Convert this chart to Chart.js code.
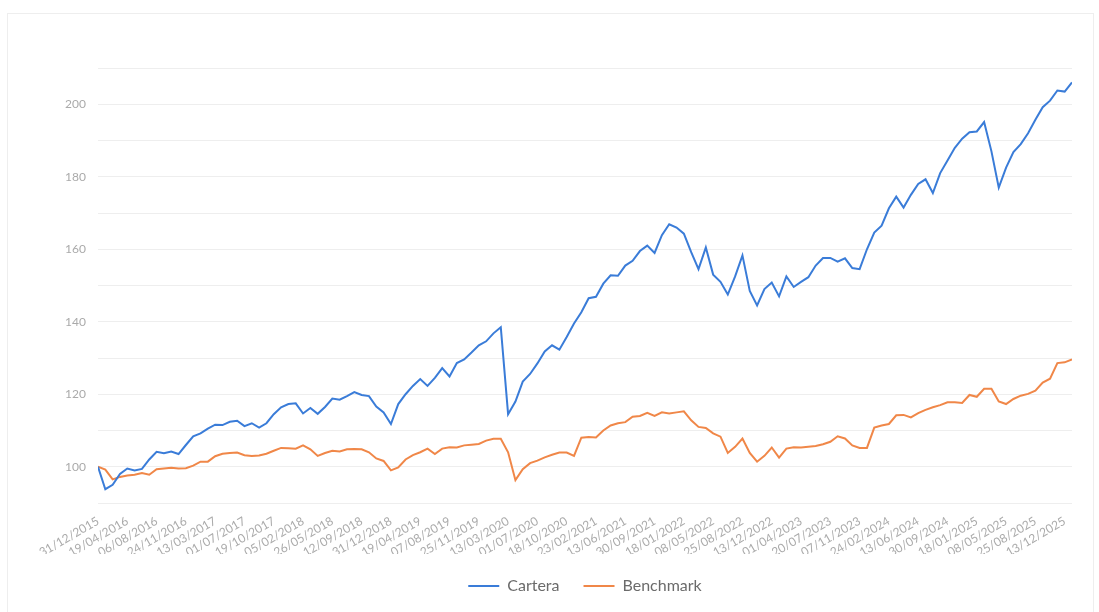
<!DOCTYPE html>
<html>
<head>
<meta charset="utf-8">
<script src="https://cdn.jsdelivr.net/npm/chart.js@4"></script>
<style>
    body { margin: 0; background: #fff; overflow: hidden; }
    #card {
        position: absolute;
        left: 7px;
        top: 13px;
        width: 1085px;
        height: 610px;
        border: 1px solid #eeeeee;
        border-bottom: none;
    }
</style>
</head>
<body>
<div id="card"><canvas id="performance"></canvas></div>
<script>
const POINTS_PER_TICK = 4;

const tickLabels = [
    '31/12/2015', '19/04/2016', '06/08/2016', '24/11/2016', '13/03/2017', '01/07/2017',
    '19/10/2017', '05/02/2018', '26/05/2018', '12/09/2018', '31/12/2018', '19/04/2019',
    '07/08/2019', '25/11/2019', '13/03/2020', '01/07/2020', '18/10/2020', '23/02/2021',
    '13/06/2021', '30/09/2021', '18/01/2022', '08/05/2022', '25/08/2022', '13/12/2022',
    '01/04/2023', '20/07/2023', '07/11/2023', '24/02/2024', '13/06/2024', '30/09/2024',
    '18/01/2025', '08/05/2025', '25/08/2025', '13/12/2025'
];

const cartera = [
    100, 93.8, 95, 98, 99.5, 99, 99.4, 102, 104.1, 103.7,
    104.2, 103.5, 106, 108.4, 109.2, 110.5, 111.6, 111.5, 112.4, 112.7,
    111.2, 112, 110.8, 112, 114.5, 116.4, 117.3, 117.5, 114.7, 116.2,
    114.6, 116.5, 118.8, 118.5, 119.5, 120.6, 119.8, 119.5, 116.6, 115,
    111.8, 117.3, 120, 122.3, 124.2, 122.3, 124.5, 127.2, 124.9, 128.6,
    129.6, 131.5, 133.5, 134.6, 136.8, 138.5, 114.5, 118, 123.5, 125.6,
    128.5, 131.8, 133.5, 132.3, 135.8, 139.5, 142.6, 146.5, 146.9, 150.5,
    152.8, 152.7, 155.5, 156.8, 159.5, 161, 159, 163.9, 166.9, 166,
    164.3, 159.2, 154.5, 160.5, 153, 151, 147.5, 152.5, 158.3, 148.5,
    144.5, 149, 150.8, 147, 152.5, 149.6, 151, 152.3, 155.5, 157.6,
    157.6, 156.6, 157.5, 154.8, 154.5, 160, 164.6, 166.5, 171.3, 174.5,
    171.5, 175, 178, 179.3, 175.5, 181, 184.5, 188, 190.5, 192.3,
    192.5, 195.1, 187, 177, 182.5, 186.8, 189, 192, 195.7, 199.2,
    201, 203.8, 203.5, 206
];

const benchmark = [
    100, 99.2, 96.5, 97.2, 97.6, 97.8, 98.3, 97.8, 99.3, 99.5,
    99.7, 99.5, 99.6, 100.3, 101.4, 101.4, 102.9, 103.6, 103.8, 103.9,
    103.2, 103, 103.1, 103.6, 104.4, 105.2, 105.1, 105, 105.9, 104.8,
    103, 103.8, 104.4, 104.2, 104.8, 104.9, 104.8, 104, 102.3, 101.6,
    99, 99.8, 102, 103.2, 104, 105, 103.5, 105, 105.4, 105.3,
    105.9, 106.1, 106.3, 107.2, 107.7, 107.7, 104, 96.3, 99.3, 101,
    101.7, 102.6, 103.3, 103.9, 103.9, 103, 108, 108.2, 108.1, 110,
    111.4, 112, 112.3, 113.8, 114, 114.9, 114, 115, 114.7, 115,
    115.3, 112.8, 111, 110.7, 109.2, 108.3, 103.8, 105.5, 107.8, 103.8,
    101.4, 103, 105.3, 102.5, 105, 105.4, 105.3, 105.5, 105.7, 106.2,
    106.9, 108.4, 107.8, 105.9, 105.2, 105.2, 110.8, 111.4, 111.8, 114.2,
    114.3, 113.6, 114.8, 115.7, 116.4, 117, 117.8, 117.8, 117.6, 119.8,
    119.3, 121.5, 121.5, 118, 117.3, 118.7, 119.6, 120.1, 121, 123.2,
    124.3, 128.6, 128.8, 129.6
];

function toPoints(values) {
    return values.map((v, i) => ({ x: i / POINTS_PER_TICK, y: v }));
}

// keep the legend centred under the plot area rather than the whole canvas
const centerLegend = {
    id: 'centerLegend',
    afterLayout(chart) {
        const legend = chart.legend;
        const shift = (chart.chartArea.left + chart.chartArea.right) / 2 - (legend.left + legend.right) / 2;
        legend.left += shift;
        legend.right += shift;
    }
};

new Chart('performance', {
    type: 'line',
    data: {
        datasets: [
            {
                label: 'Cartera',
                data: toPoints(cartera),
                borderColor: 'rgb(58, 124, 216)',
                backgroundColor: 'rgb(58, 124, 216)',
                borderWidth: 2,
                pointRadius: 0,
                tension: 0,
            },
            {
                label: 'Benchmark',
                data: toPoints(benchmark),
                borderColor: 'rgb(240, 135, 72)',
                backgroundColor: 'rgb(240, 135, 72)',
                borderWidth: 2,
                pointRadius: 0,
                tension: 0,
            }
        ],
    },
    plugins: [centerLegend],
    options: {
        responsive: true,
        maintainAspectRatio: false,
        animation: false,
        layout: {
            padding: { left: 20, right: 21, top: 54, bottom: 20 }
        },
        plugins: {
            tooltip: { enabled: false },
            legend: {
                position: 'bottom',
                labels: {
                    usePointStyle: true,
                    pointStyle: 'line',
                    pointStyleWidth: 31,
                    padding: 24,
                    color: '#6b6b6b',
                    font: { family: 'Lato', size: 16 },
                }
            }
        },
        scales: {
            x: {
                type: 'linear',
                min: 0,
                max: (cartera.length - 1) / POINTS_PER_TICK,
                grid: { display: false },
                border: { display: false },
                ticks: {
                    stepSize: 1,
                    includeBounds: false,
                    autoSkip: false,
                    minRotation: 30,
                    maxRotation: 30,
                    color: '#aaa',
                    font: { family: 'Lato', size: 12 },
                    callback: value => tickLabels[value] || '',
                },
                afterFit: scale => { scale.height = 51; },
            },
            y: {
                min: 90,
                max: 210,
                grid: { color: '#eeeeee', drawTicks: false },
                border: { display: false },
                ticks: {
                    stepSize: 10,
                    padding: 12,
                    color: '#aaa',
                    font: { family: 'Lato', size: 12 },
                    callback: value => (value % 20 === 0 && value >= 100 && value <= 200) ? value : '',
                },
                afterFit: scale => { scale.width = 70; },
            }
        }
    }
});
</script>
</body>
</html>
